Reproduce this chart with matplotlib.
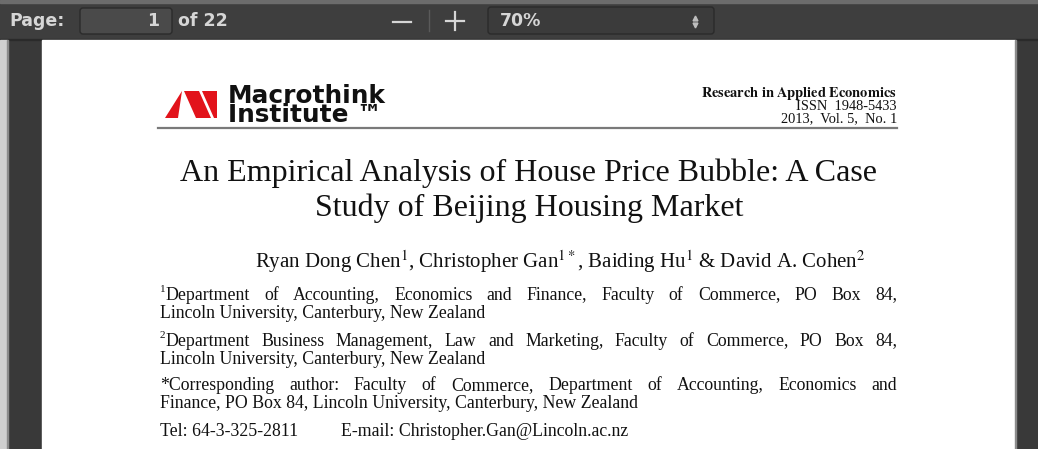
import matplotlib
matplotlib.use("Agg")
import matplotlib.pyplot as plt
from matplotlib.patches import Rectangle, Polygon, FancyBboxPatch
from matplotlib.font_manager import FontProperties

plt.rcParams["mathtext.fontset"] = "stix"

# --- content -------------------------------------------------------------
page_no = "1"
page_total = "of 22"
zoom_level = "70%"

logo_words = ["Macrothink", "Institute \u2122"]
journal_lines = [r"$\mathbf{Research\ in\ Applied\ Economics}$", "ISSN  1948-5433", "2013,  Vol. 5,  No. 1"]
title_lines = ["An Empirical Analysis of House Price Bubble: A Case",
               "Study of Beijing Housing Market"]
author_line = ("Ryan Dong Chen$^{1}$, Christopher Gan$^{1*}$, "
               "Baiding Hu$^{1}$ & David A. Cohen$^{2}$")
affil_1 = ["1", "Department of Accounting, Economics and Finance, Faculty of Commerce, PO Box 84,",
           "Lincoln University, Canterbury, New Zealand"]
affil_2 = ["2", "Department Business Management, Law and Marketing, Faculty of Commerce, PO Box 84,",
           "Lincoln University, Canterbury, New Zealand"]
corresp = ["", "*Corresponding author: Faculty of Commerce, Department of Accounting, Economics and",
           "Finance, PO Box 84, Lincoln University, Canterbury, New Zealand"]
tel = "Tel: 64-3-325-2811"
email = "E-mail: Christopher.Gan@Lincoln.ac.nz"

SERIF = "Liberation Serif"
SANS = "DejaVu Sans"
W, H = 1038, 449

fig = plt.figure(figsize=(W / 100, H / 100), dpi=100)
ax = fig.add_axes([0, 0, 1, 1])
ax.set_xlim(0, W)
ax.set_ylim(H, 0)
ax.axis("off")
renderer = fig.canvas.get_renderer()


def spacing(pitch, family, size, weight="normal"):
    # linespacing factor giving the wanted baseline-to-baseline pitch in pixels
    prop = FontProperties(family=family, size=size, weight=weight)
    _, h, d = renderer.get_text_width_height_descent("lp", prop, ismath=False)
    return (pitch - d) / (h - d)


# --- viewer chrome -------------------------------------------------------
ax.add_patch(Rectangle((0, 0), W, H, color="#393939", zorder=0))
ax.add_patch(Rectangle((0, 0), W, 40, color="#3e3e3e", zorder=1))
ax.add_patch(Rectangle((0, 0), W, 3, color="#6c6c6c", zorder=1))
ax.add_patch(Rectangle((0, 39), W, 1, color="#2a2a2a", zorder=1))
ax.add_patch(Rectangle((0, 40), 7, H, color="#cfcfcf", zorder=1))
ax.add_patch(Rectangle((7, 40), 1, H, color="#8a8a8a", zorder=1))
ax.add_patch(Rectangle((42, 40), 973, H, color="white", zorder=1))
ax.add_patch(Rectangle((1015, 40), 1, H, color="#8c8c8c", zorder=1))

ax.add_patch(FancyBboxPatch((80, 8), 92, 26, boxstyle="round,pad=0,rounding_size=3",
                            fc="#4a4a4a", ec="#2b2b2b", lw=1, zorder=2))
ax.add_patch(FancyBboxPatch((488, 7), 226, 27, boxstyle="round,pad=0,rounding_size=3",
                            fc="#3b3b3b", ec="#2a2a2a", lw=1, zorder=2))
ax.plot([429, 429], [10, 31], color="#5a5a5a", lw=1, zorder=3)

tb = dict(color="#d6d6d6", fontweight="bold", family=SANS, fontsize=12.5, va="center", zorder=4)
ax.text(9, 21, "Page:", ha="left", **tb)
ax.text(159, 21, page_no, ha="right", **tb)
ax.text(178, 21, page_total, ha="left", **tb)
ax.text(500, 21, zoom_level, ha="left", **tb)
ax.plot([393, 411], [22, 22], color="#d6d6d6", lw=1.6, zorder=4)
ax.plot([446, 464], [21, 21], color="#d6d6d6", lw=1.6, zorder=4)
ax.plot([455, 455], [12, 30], color="#d6d6d6", lw=1.6, zorder=4)
ax.plot(695, 17.5, marker="^", ms=3.5, color="#bdbdbd", zorder=4)
ax.plot(695, 24.5, marker="v", ms=3.5, color="#bdbdbd", zorder=4)

# --- logo ----------------------------------------------------------------
red = "#e2131b"
for pts in [[(165, 118), (178, 118), (182, 91)],
            [(184, 91), (199, 91), (211, 118), (196, 118)],
            [(202, 91), (217, 91), (217, 118), (214, 118)]]:
    ax.add_patch(Polygon(pts, closed=True, color=red, lw=0, zorder=3))

ax.text(228, 105.5, "\n".join(logo_words), family=SANS, fontweight="heavy", fontsize=17.8,
        color="#111", va="center", ha="left", zorder=3,
        linespacing=spacing(18.5, SANS, 17.8, "heavy"))

ax.text(897, 105, "\n".join(journal_lines), ha="right", va="center", multialignment="right",
        family=SERIF, fontsize=10.4, color="#111", zorder=3,
        linespacing=spacing(12, SERIF, 10.4))
ax.plot([158, 897], [128, 128], color="#7a7a7a", lw=1.6, zorder=3)

# --- title block ---------------------------------------------------------
ax.text(529, 191, "\n".join(title_lines), ha="center", va="center", multialignment="center",
        family=SERIF, fontsize=23, color="#111", zorder=3,
        linespacing=spacing(34, SERIF, 23))
ax.text(560, 262, author_line, ha="center", va="center", family=SERIF,
        fontsize=15, color="#111", zorder=3)

BODY = dict(family=SERIF, fontsize=12.8, color="#111", va="center", zorder=3)


def justify(sup, s, y, x0=160, x1=897):
    x = x0
    if sup:
        t = ax.text(x0, y - 5, sup, family=SERIF, fontsize=8, color="#111",
                    va="center", ha="left", zorder=3)
        x += t.get_window_extent(renderer).width
    words = s.split(" ")
    arts = [ax.text(0, y, w, ha="left", **BODY) for w in words]
    widths = [a.get_window_extent(renderer).width for a in arts]
    gap = (x1 - x - sum(widths)) / (len(words) - 1)
    for a, w in zip(arts, widths):
        a.set_x(x)
        x += w + gap


for para, ys in [(affil_1, (295, 313.5)), (affil_2, (341, 359.5)), (corresp, (385.5, 404))]:
    justify(para[0], para[1], ys[0])
    ax.text(160, ys[1], para[2], ha="left", **BODY)

ax.text(160, 431, tel, ha="left", **BODY)
ax.text(341, 431, email, ha="left", **BODY)

fig.savefig("out.png", dpi=100)
